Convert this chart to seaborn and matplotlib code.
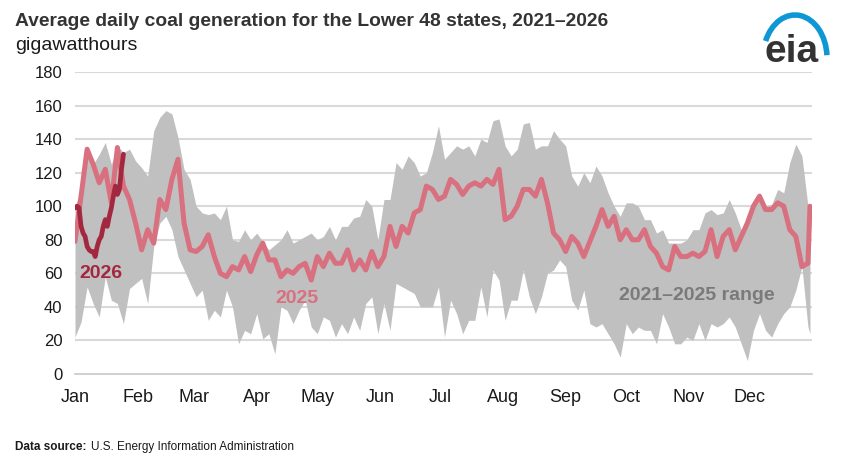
import numpy as np
import pandas as pd
import seaborn as sns
import matplotlib.pyplot as plt
from matplotlib.patches import Arc

# day of year (0 = Jan 1), sampled every 3 days
days = list(range(0, 364, 3)) + [364]

range_max = [100, 110, 134, 125, 131, 138, 125, 136, 132, 134,
             127, 123, 118, 145, 153, 157, 155, 141, 122, 116,
             100, 96, 95, 96, 92, 100, 80, 79, 86, 80,
             84, 79, 74, 77, 80, 86, 78, 80, 82, 84,
             80, 82, 88, 80, 88, 88, 93, 94, 104, 100,
             80, 104, 104, 126, 122, 130, 126, 118, 120, 132,
             148, 128, 132, 136, 134, 136, 130, 140, 138, 151,
             152, 136, 130, 134, 149, 150, 134, 136, 136, 145,
             140, 136, 118, 112, 120, 114, 124, 118, 108, 100,
             94, 102, 102, 100, 92, 92, 84, 86, 78, 78,
             78, 80, 86, 86, 96, 98, 95, 96, 104, 96,
             86, 92, 102, 108, 100, 101, 110, 108, 126, 137,
             130, 100, 100]

range_min = [22, 31, 52, 42, 34, 58, 44, 42, 30, 51,
             54, 57, 42, 76, 90, 94, 86, 70, 62, 54,
             46, 50, 32, 38, 34, 50, 40, 18, 26, 24,
             36, 21, 24, 12, 40, 38, 30, 38, 44, 28,
             24, 34, 32, 22, 30, 24, 34, 26, 42, 46,
             24, 42, 26, 54, 52, 50, 48, 40, 40, 40,
             52, 22, 44, 36, 24, 32, 32, 52, 34, 62,
             56, 32, 44, 44, 62, 46, 36, 46, 60, 62,
             68, 64, 44, 38, 50, 30, 28, 30, 24, 18,
             10, 30, 24, 28, 26, 26, 18, 36, 28, 18,
             18, 22, 20, 30, 20, 30, 28, 30, 34, 28,
             18, 8, 26, 36, 26, 22, 30, 36, 40, 50,
             64, 28, 24]

gen_2025 = [79, 106, 134, 125, 114, 122, 102, 135, 112, 104,
            90, 74, 86, 78, 104, 98, 116, 128, 90, 74,
            73, 76, 83, 70, 60, 58, 64, 62, 70, 61,
            71, 78, 68, 68, 58, 62, 60, 64, 66, 56,
            70, 64, 72, 66, 66, 74, 62, 68, 62, 73,
            64, 70, 88, 76, 88, 84, 96, 98, 112, 110,
            104, 106, 116, 113, 107, 112, 114, 112, 116, 113,
            122, 92, 94, 100, 110, 110, 106, 116, 102, 84,
            80, 73, 82, 78, 70, 79, 88, 98, 88, 94,
            80, 86, 80, 80, 86, 76, 72, 64, 62, 76,
            70, 70, 72, 70, 73, 86, 70, 82, 86, 74,
            82, 90, 100, 106, 98, 98, 102, 100, 86, 82,
            64, 66, 100]

days_2026 = list(range(0, 25))
gen_2026 = [99, 100, 99, 88, 84, 82, 76, 74, 73, 73,
            70, 76, 80, 82, 88, 92, 88, 94, 99, 106,
            112, 107, 110, 122, 131]

month_starts = [0, 31, 59, 90, 120, 151, 181, 212, 243, 273, 304, 334]
month_names = ["Jan", "Feb", "Mar", "Apr", "May", "Jun",
               "Jul", "Aug", "Sep", "Oct", "Nov", "Dec"]

df = pd.DataFrame({"day": days, "max": range_max, "min": range_min, "y2025": gen_2025})
df26 = pd.DataFrame({"day": days_2026, "y2026": gen_2026})

sns.set_style("white")
plt.rcParams['font.family'] = ['Liberation Sans', 'DejaVu Sans']

c2025 = "#d9707f"
c2026 = "#a3283f"
cgrey = "#c0c0c0"

fig = plt.figure(figsize=(8.46, 4.72), dpi=100)
ax = fig.add_axes([75 / 846, 1 - 374 / 472, 737 / 846, 302 / 472])

for v in range(20, 181, 20):
    ax.axhline(v, color="#d9d9d9", lw=1.5, zorder=0)

ax.fill_between(df["day"], df["min"], df["max"], color=cgrey, lw=0, zorder=1)
sns.lineplot(data=df, x="day", y="y2025", color=c2025, lw=3.6, ax=ax, zorder=3)
sns.lineplot(data=df26, x="day", y="y2026", color=c2026, lw=3.4, ax=ax, zorder=4)

ax.set_xlim(0, 365)
ax.set_ylim(0, 180)
ax.set_yticks(range(0, 181, 20))
ax.set_xticks(month_starts + [365])
ax.set_xticklabels(month_names + [""])
ax.tick_params(axis="x", length=6, width=1, color="#c8c8c8", pad=5, labelsize=13, labelcolor="#1a1a1a")
ax.tick_params(axis="y", length=0, pad=9, labelsize=12, labelcolor="#1a1a1a")
ax.set_xlabel("")
ax.set_ylabel("")
for s in ["top", "right", "left"]:
    ax.spines[s].set_visible(False)
ax.spines["bottom"].set_color("#c8c8c8")
ax.spines["bottom"].set_linewidth(1.2)

ax.text(13, 60, "2026", color=c2026, fontsize=14, fontweight="bold", ha="center", va="center", zorder=5)
ax.text(110, 45, "2025", color=c2025, fontsize=14, fontweight="bold", ha="center", va="center", zorder=5)
ax.text(308, 47, "2021\u20132025 range", color="#7a7a7a", fontsize=14, fontweight="bold",
        ha="center", va="center", zorder=5)

fig.text(15 / 846, 1 - 22 / 472, "Average daily coal generation for the Lower 48 states, 2021\u20132026",
         fontsize=13.9, fontweight="bold", color="#333333", va="center", ha="left")
fig.text(15 / 846, 1 - 46 / 472, "gigawatthours", fontsize=14, color="#1a1a1a", va="center", ha="left")

src1 = fig.text(15 / 846, 1 - 447 / 472, "Data source:", fontsize=8.5, fontweight="bold",
                color="#1a1a1a", va="center", ha="left")
renderer = fig.canvas.get_renderer()
bb = src1.get_window_extent(renderer=renderer)
fig.text((bb.x1 + 4) / 846, 1 - 447 / 472, "U.S. Energy Information Administration", fontsize=8.5,
         color="#1a1a1a", va="center", ha="left")

# eia logo
fig.text(792 / 846, 1 - 62 / 472, "eia", fontsize=28, fontweight="bold", color="#333333",
         ha="center", va="baseline")
fig.patches.append(Arc((7.95, (472 - 58) / 100), 0.64, 0.86, theta1=5, theta2=150,
                       lw=4, color="#0d97d5", transform=fig.dpi_scale_trans, figure=fig))

plt.savefig("out.png", dpi=100)
plt.close()
